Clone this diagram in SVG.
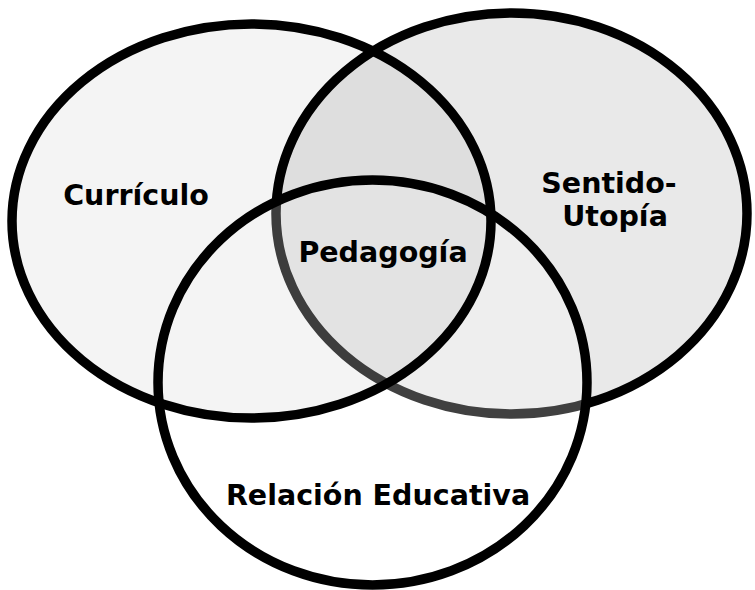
<svg xmlns="http://www.w3.org/2000/svg" width="755" height="590" viewBox="0 0 755 590">
  <style>
    .ring { stroke: #000; stroke-width: 9.5; }
    .label { font-family: "DejaVu Sans", Verdana, sans-serif; font-weight: bold; font-size: 28.5px; fill: #000; text-anchor: middle; }
  </style>
  <rect width="755" height="590" fill="#fff"/>
  <g id="sentido-utopia">
    <ellipse class="ring" cx="511.5" cy="213.5" rx="235.5" ry="200.5" fill="#e9e9e9"/>
    <text class="label" x="609" y="193">Sentido-</text>
    <text class="label" x="615" y="226">Utopía</text>
  </g>
  <g id="relacion-educativa">
    <ellipse class="ring" cx="372.5" cy="382.5" rx="214.5" ry="202.5" fill="#fff" fill-opacity="0.25"/>
    <text class="label" x="378" y="505">Relación Educativa</text>
  </g>
  <g id="curriculo">
    <ellipse class="ring" cx="251.5" cy="221" rx="239.5" ry="197" fill="#000" fill-opacity="0.045"/>
    <text class="label" x="136" y="205">Currículo</text>
  </g>
  <g id="pedagogia">
    <text class="label" x="383" y="262">Pedagogía</text>
  </g>
  <g id="connectors"/>
</svg>
